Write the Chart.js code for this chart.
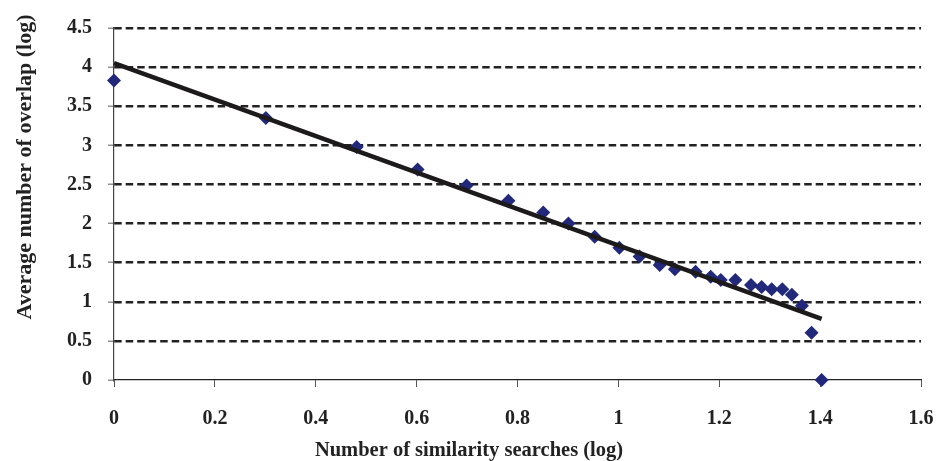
<!DOCTYPE html>
<html>
<head>
<meta charset="utf-8">
<script src="https://cdn.jsdelivr.net/npm/chart.js@4"></script>
<style>
html,body{margin:0;padding:0;background:#fff;}
#wrap{width:936px;height:461px;position:relative;}
</style>
</head>
<body>
<div id="wrap"><canvas id="c" width="936" height="461"></canvas></div>
<script>
// Observed data: log(number of similarity searches) vs log(average overlap)
const xValues = [0, 0.301, 0.481, 0.602, 0.699, 0.782, 0.851, 0.901, 0.953, 1.002, 1.042, 1.082, 1.112, 1.153, 1.183, 1.203, 1.232, 1.263, 1.284, 1.304, 1.325, 1.344, 1.364, 1.383, 1.403];
const yValues = [3.83, 3.35, 2.98, 2.69, 2.485, 2.29, 2.14, 2.0, 1.83, 1.69, 1.58, 1.47, 1.415, 1.385, 1.32, 1.28, 1.28, 1.215, 1.19, 1.16, 1.16, 1.09, 0.95, 0.605, 0.0];
// Linear trend line end points
const trendX = [0, 1.403];
const trendY = [4.05, 0.78];
// Axis tick settings
const xTickMin = 0, xTickMax = 1.6, xTickStep = 0.2;
const yTickMin = 0, yTickMax = 4.5, yTickStep = 0.5;
const xTitle = 'Number of similarity searches (log)';
const yTitle = 'Average number of overlap (log)';

const points = xValues.map((x, i) => ({x: x, y: yValues[i]}));
const trend = trendX.map((x, i) => ({x: x, y: trendY[i]}));

const FAMILY = '"Liberation Serif", "Times New Roman", serif';
const TICKFONT = {family: FAMILY, size: 20, weight: 'bold'};

// Axis titles placed as in the original (offset from the plot centre)
const axisTitles = {
  id: 'axisTitles',
  afterDraw(chart) {
    const ctx = chart.ctx;
    ctx.save();
    ctx.fillStyle = '#222';
    ctx.textAlign = 'center';
    ctx.textBaseline = 'middle';
    ctx.font = 'bold 20.5px ' + FAMILY;
    ctx.fillText(xTitle, 469, 451);
    ctx.translate(25, 167);
    ctx.rotate(-Math.PI / 2);
    ctx.font = 'bold 22px ' + FAMILY;
    ctx.fillText(yTitle, 0, 0);
    ctx.restore();
  }
};

new Chart(document.getElementById('c'), {
  type: 'scatter',
  data: {
    datasets: [
      {
        type: 'line',
        data: trend,
        borderColor: '#1c1a1a',
        borderWidth: 4.5,
        pointRadius: 0,
        fill: false,
        tension: 0,
        clip: false
      },
      {
        data: points,
        pointStyle: 'rectRot',
        pointRadius: 7,
        pointHoverRadius: 7,
        backgroundColor: '#22287a',
        borderColor: '#22287a',
        borderWidth: 0,
        clip: false
      }
    ]
  },
  plugins: [axisTitles],
  options: {
    responsive: false,
    animation: false,
    devicePixelRatio: 1,
    layout: {padding: {left: 0, right: 0, top: 28, bottom: 0}},
    plugins: {legend: {display: false}, tooltip: {enabled: false}},
    scales: {
      x: {
        type: 'linear',
        min: xTickMin, max: xTickMax,
        afterFit: (s) => { s.height = 81; s.paddingRight = 15; s.paddingLeft = 0; },
        ticks: {stepSize: xTickStep, color: '#222', font: TICKFONT, padding: 20, maxRotation: 0,
          callback: (v) => String(Math.round(v * 10) / 10)},
        grid: {drawOnChartArea: false, drawTicks: true, tickLength: 7, tickColor: '#555', tickWidth: 1},
        border: {display: true, color: '#222', width: 1.2}
      },
      y: {
        type: 'linear',
        min: yTickMin, max: yTickMax,
        afterFit: (s) => { s.width = 114; },
        ticks: {stepSize: yTickStep, color: '#222', font: TICKFONT, padding: 16,
          callback: (v) => String(Math.round(v * 10) / 10)},
        grid: {color: (ctx) => ctx.tick && ctx.tick.value === 0 ? 'rgba(0,0,0,0)' : '#222', lineWidth: 2.4, drawTicks: true, tickLength: 6, tickColor: '#777', tickWidth: 1.2, tickBorderDash: []},
        border: {display: true, color: '#444', width: 1.2, dash: [7.5, 4]}
      }
    }
  }
});
</script>
</body>
</html>
